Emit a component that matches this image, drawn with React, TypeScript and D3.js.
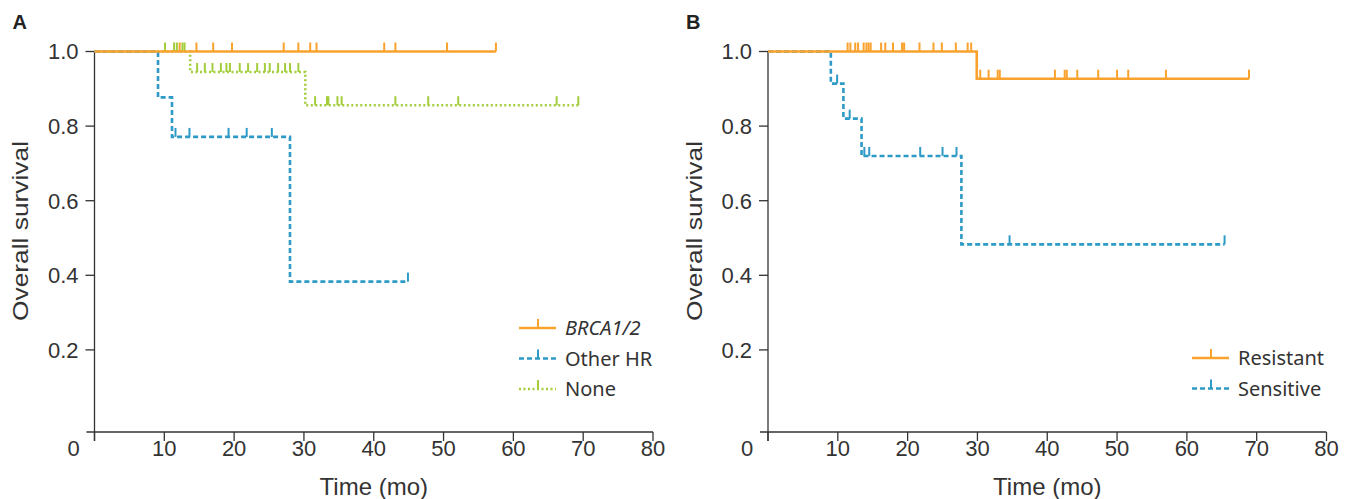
import React from "react";
import * as d3 from "d3";

// colours of the curves
const ORANGE = "#F9A22E";
const BLUE = "#2E9AC6";
const GREEN = "#A3CD3B";

const xTicks = [0, 10, 20, 30, 40, 50, 60, 70, 80];
const yTicks = [0.2, 0.4, 0.6, 0.8, 1.0];

// Panel A : BRCA1/2
const brcaStepTimes: number[] = [];
const brcaStepValues: number[] = [];
const brcaEnd = 57.5;
const brcaCensor = [12.2, 14.6, 17.0, 19.7, 27.1, 29.2, 30.9, 31.8, 41.5, 43.1, 50.5, 57.5];

// Panel A : Other HR
const otherStepTimes = [9.1, 11.1, 28.0];
const otherStepValues = [0.877, 0.771, 0.383];
const otherEnd = 44.9;
const otherCensor = [11.6, 13.6, 19.2, 21.8, 25.4, 44.9];

// Panel A : None
const noneStepTimes = [13.7, 30.2];
const noneStepValues = [0.945, 0.856];
const noneEnd = 69.3;
const noneCensor = [
  10.1, 11.4, 11.8, 12.6, 12.9,
  14.7, 15.8, 16.9, 18.1, 18.9, 19.4, 20.8, 22.0, 23.3, 24.4, 25.1, 26.3, 27.3, 28.0, 29.2,
  31.6, 33.3, 33.5, 34.8, 35.4, 43.1, 47.8, 52.1, 66.2, 69.3,
];

// Panel B : Resistant
const resStepTimes = [29.9];
const resStepValues = [0.927];
const resEnd = 68.9;
const resCensor = [
  11.4, 11.8, 12.5, 12.9, 13.7, 14.1, 14.4, 14.7, 16.2, 16.8, 17.9, 19.2, 19.5, 21.7, 23.7,
  24.9, 26.9, 28.6, 29.1, 30.4, 31.6, 32.9, 33.2, 41.1, 42.5, 42.8, 44.3, 47.3, 50.0, 51.6,
  57.0, 68.9,
];

// Panel B : Sensitive
const senStepTimes = [9.0, 10.8, 13.4, 27.7];
const senStepValues = [0.914, 0.82, 0.72, 0.483];
const senEnd = 65.4;
const senCensor = [9.9, 11.7, 13.8, 14.5, 21.8, 25.0, 27.0, 34.6, 65.4];

type Series = {
  name: string;
  italic?: boolean;
  color: string;
  dash: string | null;
  stepTimes: number[];
  stepValues: number[];
  end: number;
  censor: number[];
};

const panelA: Series[] = [
  { name: "BRCA1/2", italic: true, color: ORANGE, dash: null, stepTimes: brcaStepTimes, stepValues: brcaStepValues, end: brcaEnd, censor: brcaCensor },
  { name: "Other HR", color: BLUE, dash: "5,3", stepTimes: otherStepTimes, stepValues: otherStepValues, end: otherEnd, censor: otherCensor },
  { name: "None", color: GREEN, dash: "2,2.5", stepTimes: noneStepTimes, stepValues: noneStepValues, end: noneEnd, censor: noneCensor },
];

const panelB: Series[] = [
  { name: "Resistant", color: ORANGE, dash: null, stepTimes: resStepTimes, stepValues: resStepValues, end: resEnd, censor: resCensor },
  { name: "Sensitive", color: BLUE, dash: "5,3", stepTimes: senStepTimes, stepValues: senStepValues, end: senEnd, censor: senCensor },
];

const survAt = (s: Series, t: number) => {
  let v = 1;
  s.stepTimes.forEach((st, i) => {
    if (st <= t) v = s.stepValues[i];
  });
  return v;
};

const tickFont = "'Liberation Sans Narrow', 'Liberation Sans', Arial, sans-serif";
const legendFont = "'Noto Sans', 'Open Sans', sans-serif";
const AXIS = "#333";

function Panel({ left, label, series, legendX, legendY }: { left: number; label: string; series: Series[]; legendX: number; legendY: number }) {
  const x = d3.scaleLinear().domain([0, 80]).range([left, left + 558.5]);
  const y = d3.scaleLinear().domain([0, 1]).range([424.5, 51.5]);
  const axisY = 432;

  const line = d3
    .line<[number, number]>()
    .x((d) => x(d[0]))
    .y((d) => y(d[1]))
    .curve(d3.curveStepAfter);

  const pts = (s: Series): [number, number][] => {
    const p: [number, number][] = [[0, 1]];
    s.stepTimes.forEach((t, i) => p.push([t, s.stepValues[i]]));
    p.push([s.end, s.stepValues.length ? s.stepValues[s.stepValues.length - 1] : 1]);
    return p;
  };

  return (
    <g>
      <text x={left - 82} y={29} fontFamily="'Liberation Sans', Arial, sans-serif" fontWeight="bold" fontSize={20} fill="#222">
        {label}
      </text>
      {/* y axis */}
      <line x1={x(0)} x2={x(0)} y1={y(1)} y2={axisY + 9} stroke={AXIS} strokeWidth={1.3} />
      {yTicks.map((v) => (
        <g key={v}>
          <line x1={x(0) - 9} x2={x(0)} y1={y(v)} y2={y(v)} stroke={AXIS} strokeWidth={1.3} />
          <text x={x(0) - 16} y={y(v)} dy="0.36em" textAnchor="end" fontFamily={tickFont} fontSize={22} fill="#333">
            {v.toFixed(1)}
          </text>
        </g>
      ))}
      {/* x axis */}
      <line x1={x(0) - 8} x2={x(80)} y1={axisY} y2={axisY} stroke={AXIS} strokeWidth={1.3} />
      {xTicks.map((v) => (
        <g key={v}>
          <line x1={x(v)} x2={x(v)} y1={axisY} y2={axisY + 9} stroke={AXIS} strokeWidth={1.3} />
          <text x={v === 0 ? x(0) - 21 : x(v)} y={448} dy="0.36em" textAnchor="middle" fontFamily={tickFont} fontSize={22} fill="#333">
            {v}
          </text>
        </g>
      ))}
      <text x={x(40)} y={486} dy="0.36em" textAnchor="middle" fontFamily={tickFont} fontSize={24} fill="#333">
        Time (mo)
      </text>
      <text
        transform={`translate(${left - 74},${231}) rotate(-90)`}
        dy="0.36em"
        textAnchor="middle"
        fontFamily="'Liberation Sans', Arial, sans-serif"
        fontSize={22}
        textLength={180}
        lengthAdjust="spacingAndGlyphs"
        fill="#333"
      >
        Overall survival
      </text>
      {/* curves, drawn last series first so the first sits on top */}
      {[...series].reverse().map((s) => (
        <g key={s.name}>
          <path d={line(pts(s)) || ""} fill="none" stroke={s.color} strokeWidth={2.6} strokeDasharray={s.dash || undefined} />
          {s.censor.map((c, i) => (
            <line key={i} x1={x(c)} x2={x(c)} y1={y(survAt(s, c))} y2={y(survAt(s, c)) - 9} stroke={s.color} strokeWidth={2} />
          ))}
        </g>
      ))}
      {/* legend */}
      {series.map((s, i) => {
        const ly = legendY + i * 30.5;
        return (
          <g key={s.name}>
            <line x1={legendX} x2={legendX + 37} y1={ly} y2={ly} stroke={s.color} strokeWidth={2.6} strokeDasharray={s.dash || undefined} />
            <line x1={legendX + 19} x2={legendX + 19} y1={ly} y2={ly - 9} stroke={s.color} strokeWidth={2} />
            <text x={legendX + 46} y={ly} dy="0.36em" fontFamily={legendFont} fontStyle={s.italic ? "italic" : "normal"} fontSize={20} fill="#333">
              {s.name}
            </text>
          </g>
        );
      })}
    </g>
  );
}

export default function App() {
  return (
    <svg width={1349} height={499} style={{ position: "absolute", left: 0, top: 0, background: "#fff" }}>
      <Panel left={94.5} label="A" series={panelA} legendX={519} legendY={328} />
      <Panel left={768} label="B" series={panelB} legendX={1192} legendY={358} />
    </svg>
  );
}
